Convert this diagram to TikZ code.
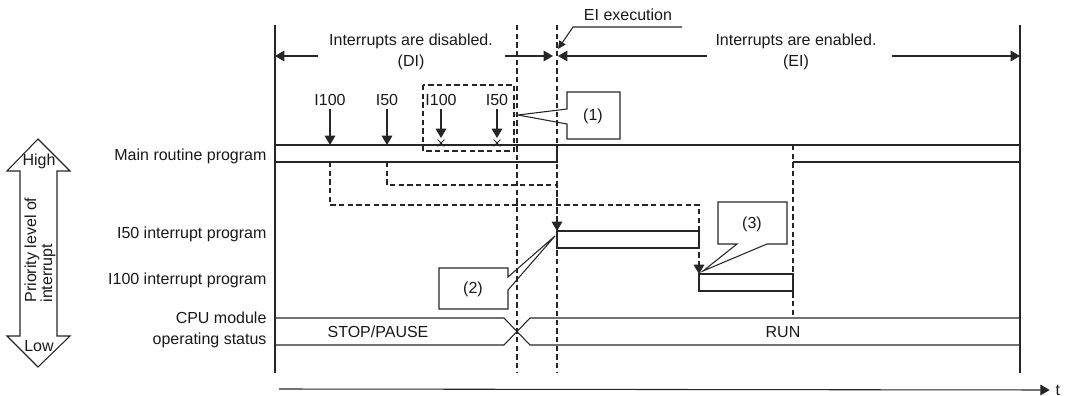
\documentclass[tikz,border=0pt]{standalone}
\usepackage{fontspec}
\setmainfont{Liberation Sans}
\usetikzlibrary{arrows.meta, shapes.misc}

\begin{document}
\begin{tikzpicture}[
		x=0.75pt, y=-0.75pt, line width=0.8pt,
		>={Triangle[length=7pt, width=8pt]},
		txt/.style={font=\fontsize{12}{15.75}\selectfont, inner sep=0pt, text=black!90},
		rowlabel/.style={txt, anchor=east, align=right},
		axis/.style={draw=black!85},
		guide/.style={draw=black!85, dash pattern=on 4pt off 2.5pt},
		span/.style={->, draw=black!85},
		irq/.style={->, draw=black!85},
		callout/.style={draw=black!85, line join=miter}
		]
		
		\useasboundingbox (0,0) rectangle (1065,396);
		
		% --- 1. Frame, boundaries and time axis ---
		\coordinate (tl) at (275,25);
		\coordinate (bl) at (275,373);
		\coordinate (tr) at (1020,25);
		\coordinate (br) at (1020,373);
		\coordinate (di) at (517,25);
		\coordinate (ei) at (557,25);
		\draw[axis] (tl) -- (bl);
		\draw[axis] (tr) -- (br);
		\draw[guide] (di) -- (di |- bl);
		\draw[guide] (ei) -- (ei |- bl);
		
		\node[txt, anchor=west] (tlab) at (1055,390) {t};
		\draw[span] (279,389) -- ([xshift=-4pt]tlab.west);
		
		% --- 2. Interrupt windows ---
		\node[txt, align=center] (dis) at (411,52) {Interrupts are disabled.\\(DI)};
		\node[txt, align=center] (ena) at (796,52) {Interrupts are enabled.\\(EI)};
		\draw[span] (318,56) -- (tl |- 0,56);
		\draw[span] (505,56) -- (553,56);
		\draw[span] (707,56) -- (558,56);
		\draw[span] (892,56) -- (tr |- 0,56);
		
		\node[txt] (eix) at (628,15) {EI execution};
		\draw[->, draw=black!85, >={Triangle[length=6pt, width=5.5pt]}] (682,27) -- (573,27) -- (558,49);
		
		% --- 3. Main routine program ---
		\node[rowlabel] (mainlab) at (267,156) {Main routine program};
		\draw[axis] (275,145) -- (1020,145);
		\draw[axis] (275,162) -- (557,162) -- (557,145);
		\draw[axis] (793,162) -- (1020,162);
		
		\node[txt] (a1) at (330,100) {I100};
		\node[txt] (a2) at (387,100) {I50};
		\node[txt] (a3) at (441,100) {I100};
		\node[txt] (a4) at (497,100) {I50};
		\draw[irq] ([yshift=-2pt]a1.south) -- (330,145);
		\draw[irq] ([yshift=-2pt]a2.south) -- (387,145);
		\draw[irq] ([yshift=-2pt]a3.south) -- (441,138);
		\draw[irq] ([yshift=-2pt]a4.south) -- (497,138);
		\node[draw=black!85, cross out, minimum size=4.5pt, inner sep=0pt, line width=0.6pt] (x1) at (441,143) {};
		\node[draw=black!85, cross out, minimum size=4.5pt, inner sep=0pt, line width=0.6pt] (x2) at (497,143) {};
		\draw[guide] (423,85) rectangle (514,151);
		
		% flow of the accepted interrupts
		\draw[guide, ->] (330,162) |- (699,205) -- (699,274);
		\draw[guide, ->] (387,162) |- (557,185) -- (557,231);
		
		% --- 4. Interrupt programs ---
		\node[rowlabel] (i50lab) at (267,234) {I50 interrupt program};
		\node[rowlabel] (i100lab) at (267,280) {I100 interrupt program};
		\draw[axis] (557,231) rectangle (699,248);
		\draw[axis] (699,274) rectangle (793,291);
		\draw[guide] (793,145) -- (793,318);
		
		% --- 5. CPU module operating status ---
		\node[rowlabel] (cpulab) at (267,330) {CPU module\\operating status};
		\draw[axis] (275,318) -- (504,318) -- (530,345) -- (1020,345);
		\draw[axis] (275,345) -- (504,345) -- (530,318) -- (1020,318);
		\node[txt] (stop) at (378,332) {STOP/PAUSE};
		\node[txt] (run) at (783,332) {RUN};
		
		% --- 6. Callouts ---
		\draw[callout] (620,92) -- (567,92) -- (567,109) -- (518,115) -- (567,124) -- (567,139) -- (620,139) -- cycle;
		\node[txt] (c1) at (593,116) {(1)};
		\draw[callout] (439,268) -- (508,268) -- (508,277) -- (555,236) -- (508,290) -- (508,309) -- (439,309) -- cycle;
		\node[txt] (c2) at (473,289) {(2)};
		\draw[callout] (718,202) -- (787,202) -- (787,244) -- (767,244) -- (703,271) -- (737,244) -- (718,244) -- cycle;
		\node[txt] (c3) at (752,224) {(3)};
		
		% --- 7. Priority level arrow ---
		\draw[axis] (38,139) -- (70,171) -- (57,171) -- (57,336) -- (70,336) -- (38,367) -- (7,336) -- (20,336) -- (20,171) -- (7,171) -- cycle;
		\node[txt] (high) at (39,161) {High};
		\node[txt] (low) at (39,346) {Low};
		\node[txt, rotate=90, anchor=west, align=left, font=\fontsize{12}{12}\selectfont] (prio) at (40,303) {Priority level of\\interrupt};
		
	\end{tikzpicture}
\end{document}
